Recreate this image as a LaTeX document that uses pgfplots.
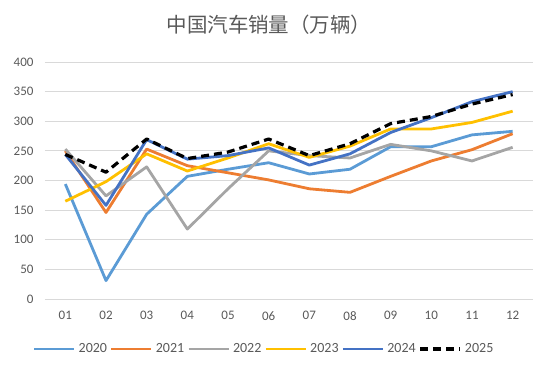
\documentclass[border=0pt]{standalone}
\usepackage{pgfplots}
\pgfplotsset{compat=1.18}
\usepackage{fontspec}
\setmainfont{Carlito}
\newfontfamily\cjk{Noto Sans CJK SC}
\definecolor{c20}{HTML}{5B9BD5}
\definecolor{c21}{HTML}{ED7D31}
\definecolor{c22}{HTML}{A5A5A5}
\definecolor{c23}{HTML}{FFC000}
\definecolor{c24}{HTML}{4472C4}
\definecolor{txt}{HTML}{595959}
\definecolor{grd}{HTML}{D9D9D9}
\begin{document}
\begin{tikzpicture}[x=1pt,y=1pt]
\begin{axis}[
  at={(45pt,73pt)}, anchor=south west,
  scale only axis, width=488pt, height=237pt,
  xmin=0.5, xmax=12.5, ymin=0, ymax=400,
  xtick={1,...,12},
  xticklabels={01,02,03,04,05,06,07,08,09,10,11,12},
  ytick={0,50,...,400},
  ymajorgrids, grid style={grd, line width=0.75pt},
  axis x line*=bottom, axis y line*=left,
  x axis line style={grd, line width=0.75pt, -},
  y axis line style={draw=none},
  major tick length=0pt,
  tick label style={font=\fontsize{13}{15}\selectfont, text=txt},
  /pgf/number format/assume math mode=true,
  yticklabel style={xshift=-8pt},
  xticklabel style={yshift=-9pt},
  legend style={at={(0.449,-0.211)}, anchor=center, draw=none, font=\fontsize{14}{15}\selectfont, text=txt, legend columns=6, column sep=1pt},
  legend image code/.code={\draw[#1] (0pt,0pt) -- (40pt,0pt);},
  every axis plot/.append style={line width=2.8pt, line join=round},
]
\addplot[c20] coordinates {(1,194)(2,31)(3,143)(4,207)(5,219)(6,230)(7,211)(8,219)(9,257)(10,257)(11,277)(12,283)};
\addplot[c21] coordinates {(1,250)(2,146)(3,253)(4,225)(5,213)(6,201)(7,186)(8,180)(9,207)(10,233)(11,252)(12,279)};
\addplot[c22] coordinates {(1,253)(2,174)(3,223)(4,118)(5,186)(6,250)(7,242)(8,238)(9,261)(10,250)(11,233)(12,256)};
\addplot[c23] coordinates {(1,165)(2,198)(3,245)(4,216)(5,238)(6,262)(7,239)(8,258)(9,287)(10,287)(11,298)(12,317)};
\addplot[c24] coordinates {(1,244)(2,158)(3,269)(4,236)(5,242)(6,255)(7,226)(8,245)(9,281)(10,306)(11,333)(12,350)};
\addplot[black, line width=3.2pt, dash pattern=on 8pt off 5pt] coordinates {(1,244)(2,214)(3,270)(4,237)(5,248)(6,270)(7,242)(8,262)(9,296)(10,308)(11,329)(12,345)};
\legend{2020,2021,2022,2023,2024,2025}
\end{axis}
\node[text=txt, font=\cjk\fontsize{20.5}{22}\selectfont] at (269pt,347pt) {中国汽车销量（万辆）};
\pgfresetboundingbox
\path (0,0) rectangle (550pt,372pt);
\end{tikzpicture}
\end{document}
